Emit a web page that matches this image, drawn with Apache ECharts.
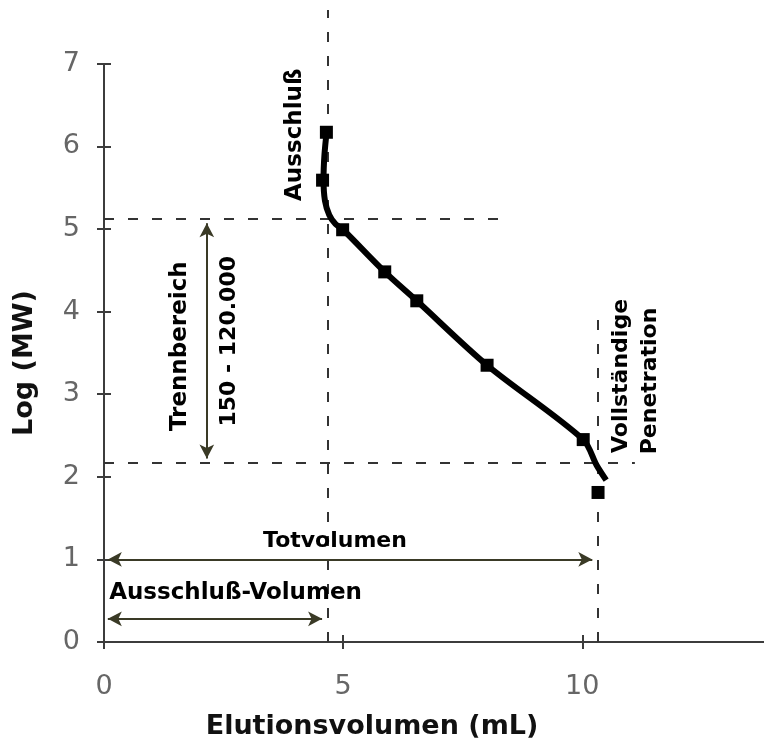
<!DOCTYPE html>
<html>
<head>
<meta charset="utf-8">
<script src="https://cdn.jsdelivr.net/npm/echarts@6/dist/echarts.min.js"></script>
<style>
  html, body { margin: 0; padding: 0; background: #fff; }
  #chart { width: 764px; height: 745px; }
</style>
</head>
<body>
<div id="chart"></div>
<script>
// ---- data ----
const volTicks = [0, 5, 10];
const logTicks = [0, 1, 2, 3, 4, 5, 6, 7];

// measured calibration standards (elution volume in mL, log MW)
const sampleVol   = [4.65, 4.57, 4.99, 5.87, 6.54, 8.01, 10.02, 10.33];
const sampleLogMW = [6.17, 5.59, 4.99, 4.48, 4.13, 3.35, 2.45, 1.81];

// calibration curve drawn through the standards
const fitVol   = [4.66, 4.61, 4.59, 4.62, 4.71, 4.84, 5.00, 5.87, 6.54, 8.01, 10.02, 10.30, 10.50];
const fitLogMW = [6.20, 5.90, 5.60, 5.34, 5.17, 5.06, 4.99, 4.48, 4.13, 3.35, 2.45, 2.14, 1.96];

// reference values
const exclusionVol = 4.68;   // Ausschluß-Volumen
const totalVol = 10.33;      // Totvolumen
const rangeHigh = 5.12;      // upper limit of separation range
const rangeLow = 2.17;       // lower limit of separation range
const rangeArrowVol = 2.15;
const totalArrowLog = 1.0;
const exclArrowLog = 0.28;

// annotation texts with their data positions
const annoText = ['Ausschluß', 'Trennbereich', '150 - 120.000', 'Vollständige', 'Penetration', 'Totvolumen', 'Ausschluß-Volumen'];
const annoVol  = [3.99, 1.59, 2.61, 10.81, 11.42, 4.83, 2.75];
const annoLog  = [6.14, 3.58, 3.64, 3.22, 3.16, 1.22, 0.59];
const annoRot  = [90, 90, 90, 90, 90, 0, 0];
const annoSize = [23, 23, 22, 22, 22, 22, 23];

const xMax = 13.8, yMax = 7.65, yAxisTop = 7;

const FONT = '"DejaVu Sans", sans-serif';
const AXIS_COLOR = '#3c3c3c';
const DASH_COLOR = '#333';
const ARROW_COLOR = '#3a3a26';

const chart = echarts.init(document.getElementById('chart'), null, { renderer: 'canvas' });

const seg = (a, b) => [{ coord: a }, { coord: b }];

const option = {
  animation: false,
  backgroundColor: '#fff',
  grid: { left: 104, right: 0, top: 10, bottom: 103, containLabel: false },
  xAxis: [
    {
      type: 'value', min: 0, max: xMax, position: 'bottom',
      axisLine: { show: true, lineStyle: { color: AXIS_COLOR, width: 2 } },
      axisTick: { show: true, length: 7, customValues: volTicks, lineStyle: { color: AXIS_COLOR, width: 2 } },
      axisLabel: { customValues: volTicks, margin: 31, color: '#666', fontSize: 27, fontFamily: FONT },
      splitLine: { show: false }
    },
    {
      type: 'value', min: 0, max: xMax, position: 'bottom',
      axisLine: { show: false },
      axisTick: { show: true, inside: true, length: 7, customValues: volTicks, lineStyle: { color: AXIS_COLOR, width: 2 } },
      axisLabel: { show: false },
      splitLine: { show: false }
    }
  ],
  yAxis: [
    {
      type: 'value', min: 0, max: yMax, position: 'left',
      axisLine: { show: false },
      axisTick: { show: true, length: 7, customValues: logTicks, lineStyle: { color: AXIS_COLOR, width: 2 } },
      axisLabel: { customValues: logTicks, margin: 24, color: '#666', fontSize: 27, fontFamily: FONT },
      splitLine: { show: false }
    },
    {
      type: 'value', min: 0, max: yMax, position: 'left',
      axisLine: { show: false },
      axisTick: { show: true, inside: true, length: 7, customValues: logTicks, lineStyle: { color: AXIS_COLOR, width: 2 } },
      axisLabel: { show: false },
      splitLine: { show: false }
    }
  ],
  graphic: [
    {
      type: 'text', x: 372, y: 727,
      style: { text: 'Elutionsvolumen (mL)', align: 'center', verticalAlign: 'middle', font: 'bold 27px ' + FONT, fill: '#111' }
    },
    {
      type: 'text', x: 25, y: 363, rotation: Math.PI / 2,
      style: { text: 'Log (MW)', align: 'center', verticalAlign: 'middle', font: 'bold 27px ' + FONT, fill: '#111' }
    }
  ],
  series: [
    {
      // y axis line, drawn only up to 7
      type: 'line', data: [], silent: true, z: 1,
      markLine: {
        silent: true, symbol: 'none', label: { show: false }, z: 1,
        lineStyle: { color: AXIS_COLOR, width: 2, type: 'solid' },
        data: [seg([0, 0], [0, yAxisTop])]
      }
    },
    {
      // dashed guide lines
      type: 'line', data: [], silent: true, z: 1,
      markLine: {
        silent: true, symbol: 'none', label: { show: false }, z: 1,
        lineStyle: { color: DASH_COLOR, width: 2, type: [10, 14] },
        data: [
          seg([exclusionVol, 0], [exclusionVol, yMax]),
          seg([totalVol, 0], [totalVol, 3.98]),
          seg([0, rangeHigh], [8.37, rangeHigh]),
          seg([0, rangeLow], [11.1, rangeLow])
        ]
      }
    },
    {
      // double arrows
      type: 'line', data: [], silent: true, z: 1,
      markLine: {
        silent: true, symbol: ['arrow', 'arrow'], symbolSize: [11, 14], label: { show: false }, z: 1,
        lineStyle: { color: ARROW_COLOR, width: 2, type: 'solid' },
        data: [
          seg([rangeArrowVol, rangeLow + 0.05], [rangeArrowVol, rangeHigh - 0.05]),
          seg([0.08, totalArrowLog], [totalVol - 0.12, totalArrowLog]),
          seg([0.08, exclArrowLog], [exclusionVol - 0.12, exclArrowLog])
        ]
      }
    },
    {
      name: 'Kalibrierkurve', type: 'line', smooth: 0.3, symbol: 'none', z: 5,
      data: fitVol.map((v, i) => [v, fitLogMW[i]]),
      lineStyle: { color: '#000', width: 6 }
    },
    {
      name: 'Standards', type: 'scatter', symbol: 'rect', symbolSize: 13, z: 6,
      data: sampleVol.map((v, i) => [v, sampleLogMW[i]]),
      itemStyle: { color: '#000', opacity: 1 }
    },
    {
      name: 'Beschriftung', type: 'scatter', symbol: 'circle', symbolSize: 1, z: 7, silent: true,
      itemStyle: { color: '#fff', opacity: 0 },
      data: annoText.map((t, i) => ({
        value: [annoVol[i], annoLog[i]],
        label: {
          show: true, formatter: t, position: 'inside', rotate: annoRot[i],
          align: 'center', verticalAlign: 'middle', opacity: 1,
          textBorderWidth: 0, textShadowBlur: 0,
          fontSize: annoSize[i], fontWeight: 'bold', fontFamily: FONT, color: '#000'
        }
      }))
    }
  ]
};

chart.setOption(option);
</script>
</body>
</html>
